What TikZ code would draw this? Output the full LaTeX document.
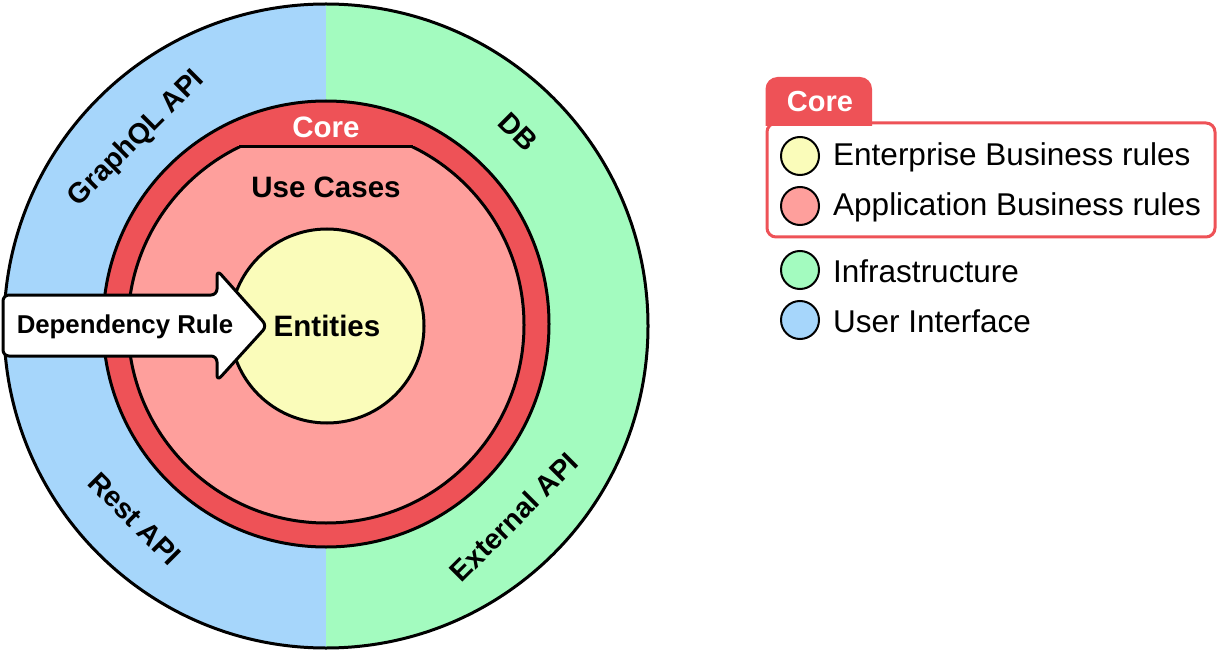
\documentclass[tikz,border=0pt]{standalone}
\usepackage{fontspec}
\setmainfont{Liberation Sans}
\newcommand\myfs[1]{\fontsize{#1}{#1}\selectfont}
\definecolor{uiblue}{HTML}{A6D6FB}
\definecolor{infgreen}{HTML}{A3FBBF}
\definecolor{corered}{HTML}{EE5257}
\definecolor{ucpink}{HTML}{FE9F9C}
\definecolor{entyellow}{HTML}{FAFCBA}
\tikzset{
  ringlbl/.style={font=\myfs{28.5}\bfseries, inner sep=0pt},
  biglbl/.style={font=\myfs{29.5}\bfseries, inner sep=0pt},
  legdot/.style={circle, draw=black, line width=2pt, minimum size=38pt, inner sep=0pt},
  legtxt/.style={anchor=west, font=\myfs{31.5}, inner sep=0pt},
  thick3/.style={line width=3pt}
}
\begin{document}
\begin{tikzpicture}[x=1pt,y=-1pt]
\useasboundingbox (0,0) rectangle (1220,652);
% outer ring
\begin{scope}
  \clip (326,326) circle (322);
  \fill[uiblue] (0,0) rectangle (326,652);
  \fill[infgreen] (326,0) rectangle (652,652);
\end{scope}
\draw[thick3] (326,326) circle (322);
% core ring
\filldraw[thick3, fill=corered] (326,324) circle (223);
% use cases
\begin{scope}
  \clip (0,147) rectangle (652,652);
  \filldraw[thick3, fill=ucpink] (326,325) circle (198);
\end{scope}
\draw[thick3] (239,147) -- (413,147);
% entities
\node[circle, draw, thick3, fill=entyellow, minimum size=194pt, inner sep=0pt, font=\myfs{29.5}\bfseries] (entities) at (327,326) {Entities};
% labels
\node[biglbl, text=white] (corelbl) at (326,127) {Core};
\node[biglbl] (uclbl) at (326,187) {Use Cases};
\node[ringlbl, rotate=45] (gql) at (137,139) {GraphQL API};
\node[ringlbl, rotate=-45] (db) at (518,132) {DB};
\node[ringlbl, rotate=-45] (rest) at (135,519) {Rest API};
\node[ringlbl, rotate=45] (ext) at (514,517) {External API};
% dependency arrow
\filldraw[thick3, fill=white, rounded corners=6pt, line join=round]
  (3,295) -- (217,295) -- (217,270) -- (267,326) -- (217,381) -- (217,356) -- (3,356) -- cycle;
\node[font=\myfs{25.8}\bfseries, inner sep=0pt] (deprule) at (125,327) {Dependency Rule};
% legend
\draw[line width=3pt, draw=corered, fill=white, rounded corners=9pt] (767,123) rectangle (1215,237);
\fill[corered] (765.5,126) -- (765.5,89) arc[start angle=180, end angle=270, radius=12] -- (860,77) arc[start angle=270, end angle=360, radius=12] -- (872,126) -- cycle;
\node[font=\myfs{29}\bfseries, text=white, inner sep=0pt] (legcore) at (820,102) {Core};
\node[legdot, fill=entyellow] (d1) at (800,156) {};
\node[legtxt] (t1) at (833,157) {Enterprise Business rules};
\node[legdot, fill=ucpink] (d2) at (800,206) {};
\node[legtxt] (t2) at (833,207) {Application Business rules};
\node[legdot, fill=infgreen] (d3) at (800,270) {};
\node[legtxt] (t3) at (833,271) {Infrastructure};
\node[legdot, fill=uiblue] (d4) at (800,320) {};
\node[legtxt] (t4) at (833,321) {User Interface};
\end{tikzpicture}
\end{document}
